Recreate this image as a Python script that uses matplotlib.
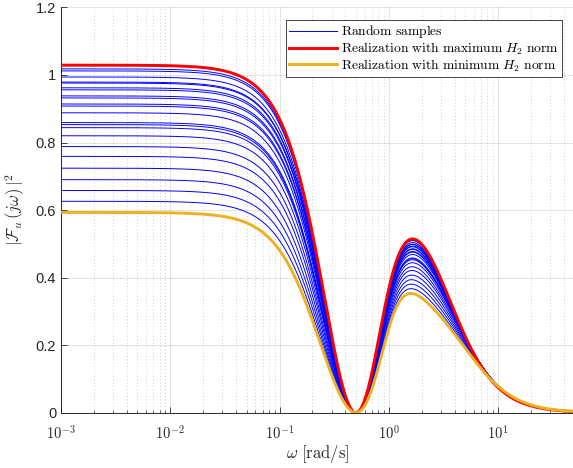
import numpy as np
import matplotlib
matplotlib.use("Agg")
import matplotlib.pyplot as plt
from matplotlib.ticker import FixedLocator, LogLocator, NullFormatter

# DC levels |F_u(j0)|^2 of the plotted realizations
dc_levels = [1.029, 1.018, 1.012, 0.994, 0.979, 0.976, 0.962, 0.956, 0.938, 0.932, 0.914, 0.908, 0.888,
             0.859, 0.853, 0.844, 0.820, 0.788, 0.759, 0.724, 0.690, 0.658, 0.626, 0.593]
dc_max = 1.029
dc_min = 0.593
# notch frequency (rad/s) and shape parameters (z, zeta1, w1, zeta2, w2) estimated from the chart
notch_w = 0.5
shape_max = [0.9308, 0.8079, 0.7640, 1.7599, 1.0658]
shape_min = [1.1523, 0.6951, 0.9151, 2.3694, 1.1878]
y_ticks = [0, 0.2, 0.4, 0.6, 0.8, 1.0, 1.2]
y_ticklabels = ['0', '0.2', '0.4', '0.6', '0.8', '1', '1.2']
x_ticks = [1e-3, 1e-2, 1e-1, 1e0, 1e1]
x_ticklabels = [r'$10^{-3}$', r'$10^{-2}$', r'$10^{-1}$', r'$10^{0}$', r'$10^{1}$']
legend_labels = [r'$\mathrm{Random\ samples}$',
                 r'$\mathrm{Realization\ with\ maximum\ }H_2\mathrm{\ norm}$',
                 r'$\mathrm{Realization\ with\ minimum\ }H_2\mathrm{\ norm}$']


def response(w, dc, shape):
    z, z1, w1, z2, w2 = shape
    s = 1j * w
    k = np.sqrt(dc) * w1**2 * w2**2 / (notch_w**2 * z)
    F = k * (s**2 + notch_w**2) * (s + z) / ((s**2 + 2*z1*w1*s + w1**2) * (s**2 + 2*z2*w2*s + w2**2))
    return np.abs(F)**2


plt.rcParams['mathtext.fontset'] = 'cm'
plt.rcParams['font.family'] = ['Liberation Sans', 'DejaVu Sans']
gray = '#262626'

fig = plt.figure(figsize=(5.73, 4.68), dpi=100)
ax = fig.add_axes([61/573, 55.3/468, 513.4/573, 405.3/468])
w = np.logspace(-3, np.log10(50), 900)
lmax = np.log(shape_max); lmin = np.log(shape_min)
hb = None
for d in dc_levels:
    t = (d - dc_min) / (dc_max - dc_min)
    sh = np.exp(lmin + t * (lmax - lmin))
    hb, = ax.plot(w, response(w, d, sh), color='#0000ff', lw=0.7, zorder=3)
hr, = ax.plot(w, response(w, dc_max, shape_max), color='#ff0000', lw=2.1, zorder=4)
ho, = ax.plot(w, response(w, dc_min, shape_min), color='#edb120', lw=2.1, zorder=5)

ax.set_xscale('log')
ax.set_xlim(1e-3, 50)
ax.set_ylim(0, 1.2)
ax.xaxis.set_major_locator(FixedLocator(x_ticks))
ax.set_xticklabels(x_ticklabels)
ax.xaxis.set_minor_locator(LogLocator(base=10, subs=np.arange(2, 10), numticks=20))
ax.xaxis.set_minor_formatter(NullFormatter())
ax.set_yticks(y_ticks)
ax.set_yticklabels(y_ticklabels)
ax.tick_params(which='both', direction='in', colors=gray, labelsize=10.5, top=False, right=False)
ax.tick_params(which='major', length=4, width=0.6)
ax.tick_params(which='minor', length=2.5, width=0.5)
ax.tick_params(axis='x', pad=8)
ax.grid(True, which='major', color=gray, alpha=0.15, lw=0.6)
ax.grid(True, which='minor', axis='x', color=gray, alpha=0.3, lw=0.6, ls=(0, (1, 3)))
for side in ['top', 'right']:
    ax.spines[side].set_visible(False)
for side in ['left', 'bottom']:
    ax.spines[side].set_color(gray)
    ax.spines[side].set_linewidth(0.7)
ax.set_axisbelow(True)

ax.set_xlabel(r'$\omega\ \mathrm{[rad/s]}$', fontsize=12, color=gray, labelpad=1)
ax.set_ylabel(r'$|\mathcal{F}_u\,(j\omega)\,|^2$', fontsize=12, color=gray, labelpad=6)

leg = ax.legend([hb, hr, ho], legend_labels, loc='upper right', bbox_to_anchor=(0.976, 0.969),
                fontsize=9.8, frameon=True, fancybox=False, framealpha=1, edgecolor=gray,
                borderaxespad=0, borderpad=0.25, labelspacing=0.02, handlelength=3.5, handletextpad=0.3)
leg.get_frame().set_linewidth(0.6)
fig.savefig('out.png')
